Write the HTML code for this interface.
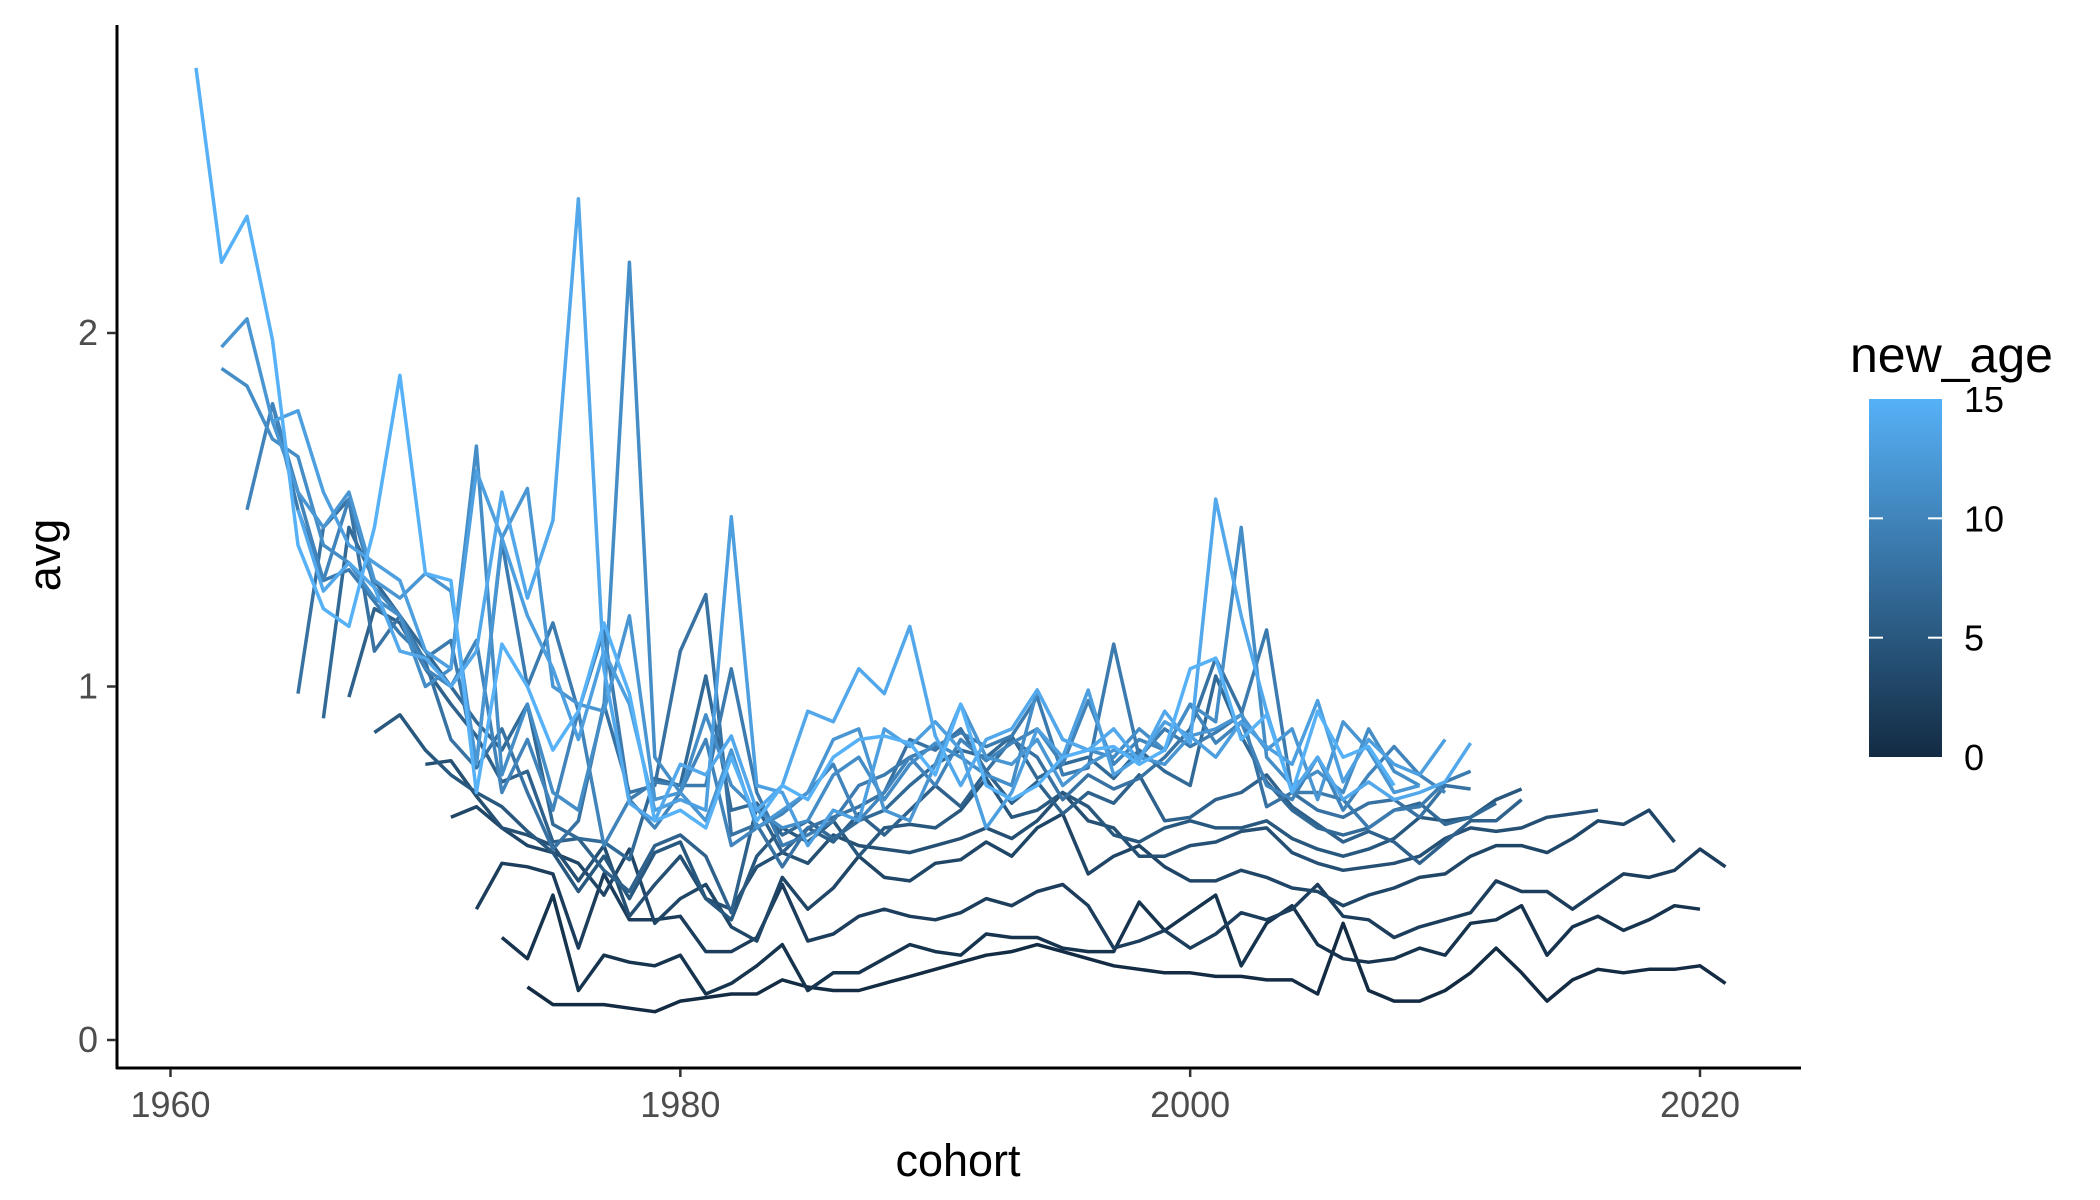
<!DOCTYPE html>
<html><head><meta charset="utf-8"><style>
html,body{margin:0;padding:0;background:#fff;}
svg{display:block;font-family:"Liberation Sans",sans-serif;}
</style></head><body>
<svg id="chart" width="2100" height="1200" viewBox="0 0 2100 1200" xmlns="http://www.w3.org/2000/svg">
<rect x="0" y="0" width="2100" height="1200" fill="#fff"/>
<g id="series"></g>
<g id="axes"></g>
<defs><linearGradient id="grad" x1="0" y1="1" x2="0" y2="0"><stop offset="0" stop-color="#132B43"/><stop offset="1" stop-color="#56B1F7"/></linearGradient></defs>
<g>
<text x="1850" y="372" font-size="50" fill="#000">new_age</text>
<rect x="1869" y="399" width="73" height="358" fill="url(#grad)"/>
<g id="legendTicks"></g>
</g>
<text x="958" y="1176" font-size="45" text-anchor="middle" fill="#000">cohort</text>
<text transform="translate(60,555) rotate(-90)" font-size="45" text-anchor="middle" fill="#000">avg</text>
</svg>
<script>
const ages = [0,1,2,3,4,5,6,7,8,9,10,11,12,13,14,15];
const starts = [1974,1973,1972,1971,1970,1968,1967,1966,1965,1964,1963,1962,1962,1964,1965,1961];
const s0 = [0.15,0.10,0.10,0.10,0.09,0.08,0.11,0.12,0.13,0.13,0.17,0.15,0.14,0.14,0.16,0.18,0.20,0.22,0.24,0.25,0.27,0.25,0.23,0.21,0.20,0.19,0.19,0.18,0.18,0.17,0.17,0.13,0.33,0.14,0.11,0.11,0.14,0.19,0.26,0.19,0.11,0.17,0.20,0.19,0.20,0.20,0.21,0.16];
const s1 = [0.29,0.23,0.41,0.14,0.24,0.22,0.21,0.24,0.13,0.16,0.21,0.27,0.14,0.19,0.19,0.23,0.27,0.25,0.24,0.30,0.29,0.29,0.26,0.25,0.25,0.39,0.31,0.36,0.41,0.21,0.33,0.38,0.27,0.23,0.22,0.23,0.26,0.24,0.33,0.34,0.38,0.24,0.32,0.35,0.31,0.34,0.38,0.37];
const s2 = [0.37,0.50,0.49,0.47,0.26,0.47,0.34,0.34,0.35,0.25,0.25,0.29,0.44,0.28,0.30,0.35,0.37,0.35,0.34,0.36,0.40,0.38,0.42,0.44,0.38,0.26,0.28,0.31,0.26,0.30,0.36,0.34,0.37,0.44,0.35,0.34,0.29,0.32,0.34,0.36,0.45,0.42,0.42,0.37,0.42,0.47,0.46,0.48,0.54,0.49];
const s3 = [0.63,0.66,0.60,0.55,0.53,0.50,0.41,0.54,0.33,0.40,0.44,0.32,0.28,0.46,0.37,0.43,0.52,0.46,0.45,0.50,0.51,0.56,0.52,0.60,0.64,0.47,0.52,0.55,0.49,0.45,0.45,0.48,0.46,0.43,0.42,0.38,0.41,0.43,0.46,0.47,0.52,0.55,0.55,0.53,0.57,0.62,0.61,0.65,0.56];
const s4 = [0.78,0.79,0.69,0.60,0.58,0.55,0.45,0.55,0.35,0.44,0.52,0.40,0.37,0.49,0.53,0.50,0.58,0.55,0.54,0.53,0.55,0.57,0.60,0.57,0.62,0.70,0.62,0.60,0.52,0.52,0.55,0.56,0.59,0.60,0.53,0.50,0.48,0.49,0.50,0.52,0.57,0.60,0.59,0.60,0.63,0.64,0.65];
const s5 = [0.87,0.92,0.82,0.75,0.70,0.66,0.59,0.53,0.42,0.52,0.40,0.53,0.56,0.40,0.34,0.52,0.60,0.56,0.62,0.52,0.60,0.61,0.60,0.65,0.74,0.63,0.65,0.70,0.66,0.58,0.56,0.60,0.62,0.60,0.60,0.62,0.57,0.54,0.52,0.54,0.57,0.63,0.62,0.63,0.68,0.71];
const s6 = [0.97,1.22,1.18,1.05,0.95,0.86,0.73,0.76,0.56,0.57,0.48,0.42,0.55,0.58,0.52,0.36,0.66,0.53,0.60,0.56,0.64,0.58,0.65,0.72,0.66,0.76,0.67,0.73,0.64,0.70,0.67,0.75,0.62,0.63,0.68,0.70,0.75,0.66,0.61,0.56,0.59,0.56,0.50,0.56,0.62,0.62,0.68];
const s7 = [0.91,1.45,1.30,1.20,1.10,1.00,0.90,0.82,0.95,0.61,0.57,0.56,0.51,0.74,0.72,1.03,0.65,0.67,0.58,0.62,0.57,0.62,0.65,0.72,0.78,0.82,0.80,0.86,0.74,0.78,0.80,0.74,0.82,0.76,0.72,1.03,0.86,0.73,0.65,0.60,0.58,0.60,0.65,0.67,0.61,0.63,0.67];
const s8 = [0.98,1.45,1.53,1.10,1.20,1.07,0.85,0.77,0.88,0.70,0.54,0.62,0.95,0.70,0.72,1.10,1.26,0.58,0.61,0.49,0.60,0.63,0.66,0.70,0.85,0.82,0.88,0.76,0.85,0.80,0.68,0.75,0.71,0.74,0.80,0.88,1.08,0.93,0.66,0.70,0.65,0.63,0.67,0.68,0.63,0.72,0.71];
const s9 = [1.80,1.50,1.30,1.33,1.24,1.15,1.08,1.13,0.78,1.41,1.00,1.18,0.93,1.16,0.68,0.73,0.72,0.72,1.05,0.70,0.55,0.58,0.62,0.72,0.75,0.80,0.83,0.87,0.83,0.86,0.97,0.75,0.77,1.12,0.80,0.88,0.83,0.87,0.92,1.16,0.70,0.70,0.68,0.60,0.65,0.66,0.73,0.76];
const s10 = [1.50,1.80,1.55,1.30,1.53,1.28,1.20,1.05,1.00,1.13,0.70,0.85,0.65,0.93,0.55,0.68,0.60,0.70,0.85,0.55,0.60,0.64,0.70,0.78,0.62,0.70,0.80,0.72,0.85,0.79,0.84,0.88,0.78,0.96,0.78,0.85,0.82,0.95,0.84,0.90,0.72,0.68,0.80,0.65,0.75,0.83,0.75,0.70];
const s11 = [1.90,1.85,1.70,1.65,1.40,1.35,1.25,1.20,1.00,1.05,1.68,0.75,0.95,0.70,0.65,0.94,2.20,0.80,0.70,0.92,0.72,0.65,0.60,0.62,0.75,0.80,0.68,0.78,0.84,0.80,0.75,0.72,0.99,0.85,0.82,0.80,0.88,0.82,0.95,0.90,1.45,0.80,0.72,0.76,0.70,0.88,0.76,0.72];
const s12 = [1.96,2.04,1.75,1.55,1.45,1.55,1.30,1.25,1.32,1.27,0.78,1.42,1.56,1.00,0.95,0.93,1.20,0.68,0.70,0.62,0.82,0.60,0.65,0.70,0.85,0.88,0.65,0.62,0.78,0.95,0.80,0.78,0.85,0.72,0.78,0.82,0.80,0.78,0.86,0.88,0.92,0.82,0.88,0.68,0.90,0.82,0.70,0.72];
const s13 = [1.75,1.78,1.55,1.40,1.35,1.30,1.10,1.05,1.61,1.42,1.20,1.05,0.85,1.10,0.95,0.65,0.68,0.65,1.48,0.72,0.70,0.55,0.65,0.62,0.88,0.83,0.90,0.82,0.60,0.70,0.88,0.80,0.99,0.75,0.80,0.90,0.86,0.80,0.90,0.83,0.78,0.96,0.73,0.85,0.78,0.75,0.85];
const s14 = [1.50,1.27,1.35,1.28,1.10,1.08,1.00,1.10,1.55,1.25,1.47,2.38,1.05,0.67,0.62,0.78,0.75,0.86,0.65,0.72,0.93,0.90,1.05,0.98,1.17,0.86,0.72,0.85,0.88,0.99,0.85,0.82,0.88,0.79,0.93,0.84,1.53,1.20,0.93,0.70,0.80,0.68,0.73,0.68,0.70,0.73,0.84];
const s15 = [2.75,2.20,2.33,1.98,1.40,1.22,1.17,1.45,1.88,1.32,1.30,0.70,1.12,1.00,0.82,0.93,1.18,0.98,0.62,0.65,0.60,0.80,0.62,0.72,0.68,0.80,0.85,0.86,0.84,0.75,0.95,0.72,0.68,0.72,0.80,0.82,0.83,0.78,0.82,1.05,1.08,0.85,0.92,0.70,0.93,0.80,0.83,0.72];
const seriesValues = [s0,s1,s2,s3,s4,s5,s6,s7,s8,s9,s10,s11,s12,s13,s14,s15];
const xTicks = [1960,1980,2000,2020];
const yTicks = [0,1,2];
const legendTicks = [0,5,10,15];

const NS = "http://www.w3.org/2000/svg";
const xScale = v => 170.5 + (v - 1960) * (1700 - 170.5) / 60;
const yScale = v => 1040 - v * 353.5;
const lo = [0x13,0x2B,0x43], hi = [0x56,0xB1,0xF7];
function color(a){const t=a/15;return "rgb("+lo.map((c,i)=>Math.round(c+(hi[i]-c)*t)).join(",")+")";}

const sg = document.getElementById("series");
ages.forEach((a,i)=>{
  const vals = seriesValues[i];
  const d = vals.map((v,j)=>(j?"L":"M")+xScale(starts[i]+j).toFixed(1)+","+yScale(v).toFixed(1)).join("");
  const p = document.createElementNS(NS,"path");
  p.setAttribute("d",d);
  p.setAttribute("fill","none");
  p.setAttribute("stroke",color(a));
  p.setAttribute("stroke-width","3.5");
  p.setAttribute("stroke-linejoin","round");
  
  
  sg.appendChild(p);
});

const ax = document.getElementById("axes");
function mk(tag,attrs,text){const e=document.createElementNS(NS,tag);for(const k in attrs)e.setAttribute(k,attrs[k]);if(text!==undefined)e.textContent=text;ax.appendChild(e);return e;}
const yl = mk("line",{x1:117,y1:25,x2:117,y2:1069,stroke:"#000","stroke-width":3});


const xl = mk("line",{x1:116,y1:1068,x2:1801,y2:1068,stroke:"#000","stroke-width":3});


xTicks.forEach(t=>{
  const x=xScale(t);
  const tk=mk("line",{x1:x,y1:1069,x2:x,y2:1077,stroke:"#333","stroke-width":2.5});
  
  
  const lb=mk("text",{x:x,y:1117,"font-size":36,"text-anchor":"middle",fill:"#4d4d4d"},String(t));
  
  
});
yTicks.forEach(t=>{
  const y=yScale(t);
  const tk=mk("line",{x1:107,y1:y,x2:116,y2:y,stroke:"#333","stroke-width":2.5});
  
  
  const lb=mk("text",{x:98,y:y+12,"font-size":36,"text-anchor":"end",fill:"#4d4d4d"},String(t));
  
  
});
const lg=document.getElementById("legendTicks");
legendTicks.forEach(t=>{
  const y=757-(t/15)*358;
  if(t>0&&t<15){
    [[1869,1883],[1928,1942]].forEach(([a,b])=>{
      const l=document.createElementNS(NS,"line");
      l.setAttribute("x1",a);l.setAttribute("x2",b);l.setAttribute("y1",y);l.setAttribute("y2",y);
      l.setAttribute("stroke","#fff");l.setAttribute("stroke-width","2");
      
      
      lg.appendChild(l);
    });
  }
  const tx=document.createElementNS(NS,"text");
  tx.setAttribute("x",1964);tx.setAttribute("y",y+13);tx.setAttribute("font-size","36");tx.setAttribute("fill","#000");
  tx.textContent=String(t);
  
  
  lg.appendChild(tx);
});
</script>
</body></html>
